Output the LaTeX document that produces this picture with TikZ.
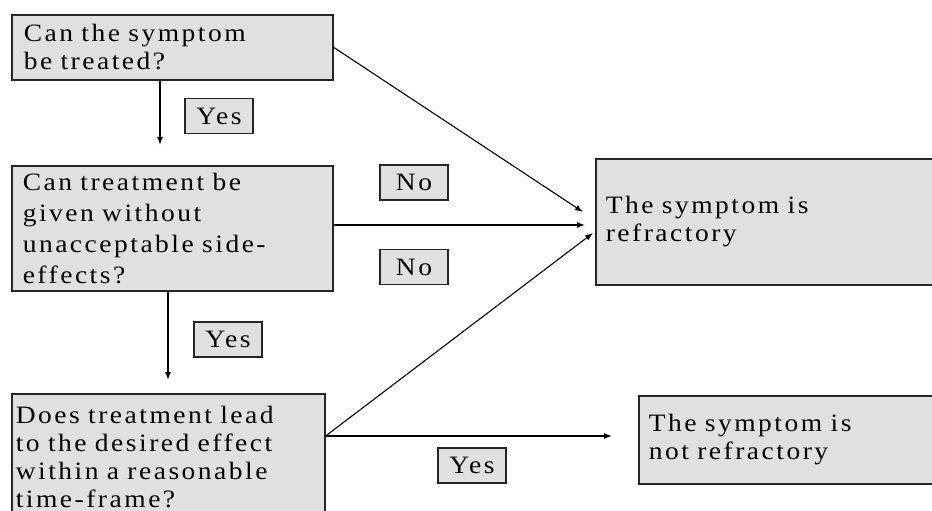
\documentclass[tikz,border=0pt]{standalone}
\usepackage{fontspec}
\setmainfont{Liberation Serif}[LetterSpace=10, FakeStretch=1.1]
\usepackage{tikz}
\usetikzlibrary{arrows.meta,positioning}
\newcommand\boxfont{\fontsize{25}{28}\selectfont}
\newcommand\boxfontwide{\fontsize{25}{31}\selectfont}

\begin{document}
\begin{tikzpicture}[x=1pt, y=-1pt, ->, >={Latex[length=8pt,width=6pt]}, line width=1.1pt,
  every node/.style={font=\boxfont},
  qbox/.style={draw=black!85, fill=black!12, line width=1.6pt, anchor=north west, align=left, inner ysep=0pt},
  tag/.style={draw=black!85, fill=black!12, line width=1.4pt, minimum width=68pt, minimum height=35pt, inner sep=0pt}]
\path[use as bounding box] (0,0) rectangle (932,511);
\node[qbox, text width=297pt, inner xsep=12pt, minimum height=65pt] (q1) at (11,14) {Can the symptom\\be treated?};
\node[qbox, text width=299pt, inner xsep=11pt, minimum height=125pt, font=\boxfontwide] (q2) at (11,165) {Can treatment be\\given without\\unacceptable side-\\effects?};
\node[qbox, text width=305pt, inner xsep=4pt, inner ysep=12pt] (q3) at (11,393) {Does treatment lead\\to the desired effect\\within a reasonable\\time-frame?};
\node[qbox, text width=340pt, inner xsep=10pt, minimum height=126pt] (ref) at (595,158) {The symptom is\\refractory};
\node[qbox, text width=300pt, inner xsep=10pt, minimum height=88pt] (notref) at (638,395) {The symptom is\\not refractory};
\node[tag] (yes1) at (219,116) {Yes};
\node[tag] (yes2) at (228,339.5) {Yes};
\node[tag] (no1) at (414,182.5) {No};
\node[tag] (no2) at (414,267) {No};
\node[tag] (yes3) at (472,465.5) {Yes};
\coordinate (d1) at (160,145);
\coordinate (d2) at (168,380);
\coordinate (r1) at (583,212);
\coordinate (r2) at (585,225);
\coordinate (r3) at (593,233);
\coordinate (n1) at (612,436);
\coordinate (q3out) at ([yshift=-43pt]q3.north east);
\draw (q1.south -| d1) -- (d1);
\draw (q2.south -| d2) -- (d2);
\draw (q1.east) -- (r1);
\draw (q2.east |- r2) -- (r2);
\draw (q3out) -- (r3);
\draw (q3out) -- (n1);
\end{tikzpicture}
\end{document}
